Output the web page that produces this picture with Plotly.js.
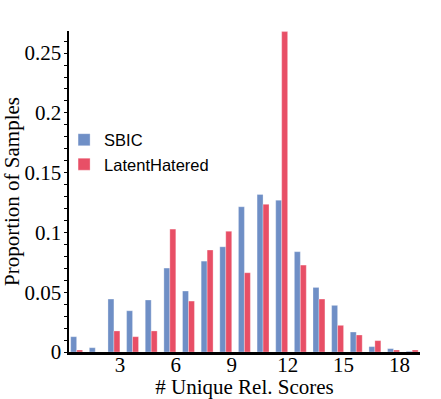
<!DOCTYPE html>
<html>
<head>
<meta charset="utf-8">
<script src="https://cdn.plot.ly/plotly-3.0.1.min.js"></script>
<style>
  html, body { margin: 0; padding: 0; background: #fff; }
  #plotArea { width: 441px; height: 399px; }
</style>
</head>
<body>
<div id="plotArea"></div>
<script>
// number of unique relevance scores per sample
var scores = [1, 2, 3, 4, 5, 6, 7, 8, 9, 10, 11, 12, 13, 14, 15, 16, 17, 18, 19];

// proportion of samples
var sbic = [0.0128, 0.0036, 0.0443, 0.0345, 0.0435, 0.0702, 0.0510, 0.0760, 0.0880, 0.1215,
            0.1318, 0.1270, 0.0839, 0.0540, 0.0390, 0.0167, 0.0045, 0.0028, 0.0006];
var latentHatered = [0.0017, 0.0, 0.0176, 0.0128, 0.0176, 0.1028, 0.0426, 0.0853, 0.1010, 0.0663,
                     0.1235, 0.2680, 0.0727, 0.0443, 0.0223, 0.0142, 0.0095, 0.0017, 0.0017];

var xTicks = [3, 6, 9, 12, 15, 18];

var serif = "Liberation Serif, Times New Roman, serif";

var trace1 = {
    x: scores,
    y: sbic,
    name: "SBIC",
    type: "bar",
    width: 0.32,
    offset: -0.64,
    marker: {color: "#6f8fc6", line: {width: 0.5, color: "rgba(255,255,255,0.6)"}}
};

var trace2 = {
    x: scores,
    y: latentHatered,
    name: "LatentHatered",
    type: "bar",
    width: 0.32,
    offset: -0.32,
    marker: {color: "#e84f66", line: {width: 0.5, color: "rgba(255,255,255,0.6)"}}
};

var layout = {
    width: 441,
    height: 399,
    margin: {l: 69, r: 21, t: 31, b: 47},
    paper_bgcolor: "#fff",
    plot_bgcolor: "#fff",
    barmode: "group",
    font: {family: serif, size: 21, color: "#000"},
    showlegend: true,
    legend: {
        x: -0.014, y: 0.715,
        xanchor: "left", yanchor: "top",
        bgcolor: "rgba(0,0,0,0)",
        font: {family: "Liberation Sans, Arial, sans-serif", size: 16.5, color: "#000"},
        itemclick: false
    },
    xaxis: {
        range: [0.27, 19.1],
        tickvals: xTicks,
        ticks: "",
        ticklabelstandoff: -8,
        showgrid: false,
        zeroline: false,
        showline: true,
        linecolor: "#000",
        linewidth: 3,
        tickfont: {family: serif, size: 21, color: "#000"},
        title: {text: "# Unique Rel. Scores", font: {family: serif, size: 21, color: "#000"}, standoff: 0}
    },
    yaxis: {
        range: [0, 0.2685],
        dtick: 0.05,
        ticks: "outside",
        ticklen: 3,
        tickwidth: 1,
        tickcolor: "#000",
        ticklabelstandoff: -2,
        minor: {dtick: 0.01, ticks: "outside", ticklen: 3, tickcolor: "#000", tickwidth: 1},
        showgrid: false,
        zeroline: false,
        showline: true,
        linecolor: "#000",
        linewidth: 2.5,
        tickfont: {family: serif, size: 21, color: "#000"},
        title: {text: "Proportion of Samples", font: {family: serif, size: 21, color: "#000"}, standoff: 6}
    }
};

Plotly.newPlot("plotArea", [trace1, trace2], layout, {displayModeBar: false, staticPlot: true});
</script>
</body>
</html>
